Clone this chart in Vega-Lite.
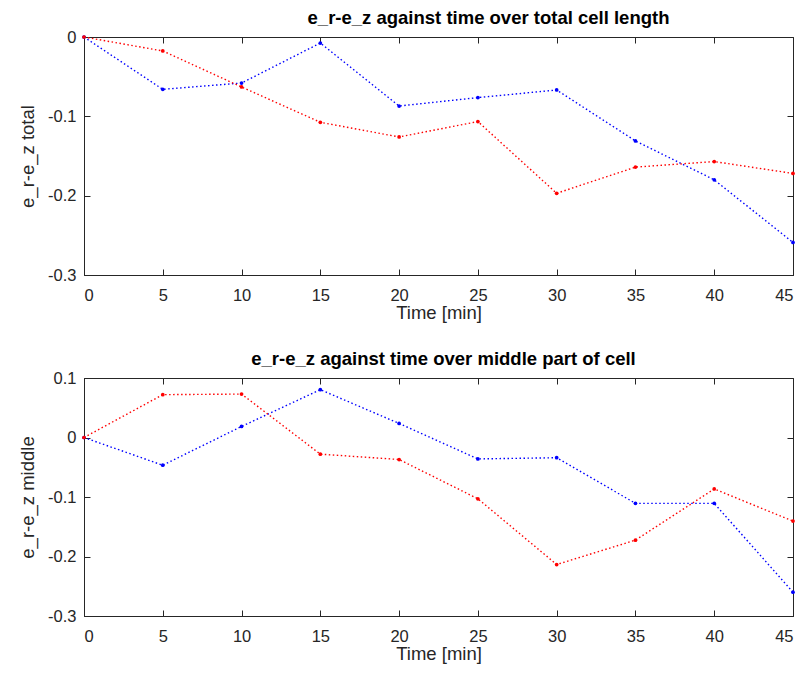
{
  "$schema": "https://vega.github.io/schema/vega-lite/v6.json",
  "background": "white",
  "padding": {"left": 18, "top": 8, "right": 10, "bottom": 4},
  "spacing": 26,
  "config": {
    "font": "Liberation Sans",
    "view": {"stroke": "#262626", "strokeWidth": 1},
    "axis": {
      "grid": false,
      "domainColor": "#262626",
      "tickColor": "#262626",
      "labelColor": "#262626",
      "titleColor": "#262626",
      "labelFont": "Liberation Sans",
      "titleFont": "Liberation Sans",
      "labelFontSize": 16.5,
      "titleFontSize": 18.5,
      "titleFontWeight": "normal",
      "tickSize": -6
    },
    "axisX": {"labelPadding": 18},
    "axisY": {"labelPadding": 14},
    "title": {"font": "Liberation Sans", "fontSize": 18.5, "fontWeight": "bold", "color": "#000000", "anchor": "middle", "offset": 2}
  },
  "datasets": {
    "total": [
      {"time": 0, "series": "blue", "value": 0},
      {"time": 5, "series": "blue", "value": -0.066},
      {"time": 10, "series": "blue", "value": -0.058},
      {"time": 15, "series": "blue", "value": -0.0076},
      {"time": 20, "series": "blue", "value": -0.087},
      {"time": 25, "series": "blue", "value": -0.0764},
      {"time": 30, "series": "blue", "value": -0.0668},
      {"time": 35, "series": "blue", "value": -0.131},
      {"time": 40, "series": "blue", "value": -0.18},
      {"time": 45, "series": "blue", "value": -0.259},
      {"time": 0, "series": "red", "value": 0},
      {"time": 5, "series": "red", "value": -0.0176},
      {"time": 10, "series": "red", "value": -0.063},
      {"time": 15, "series": "red", "value": -0.1075},
      {"time": 20, "series": "red", "value": -0.126},
      {"time": 25, "series": "red", "value": -0.1066},
      {"time": 30, "series": "red", "value": -0.197},
      {"time": 35, "series": "red", "value": -0.164},
      {"time": 40, "series": "red", "value": -0.157},
      {"time": 45, "series": "red", "value": -0.172}
    ],
    "middle": [
      {"time": 0, "series": "blue", "value": 0},
      {"time": 5, "series": "blue", "value": -0.0466},
      {"time": 10, "series": "blue", "value": 0.0186},
      {"time": 15, "series": "blue", "value": 0.0804},
      {"time": 20, "series": "blue", "value": 0.0236},
      {"time": 25, "series": "blue", "value": -0.036},
      {"time": 30, "series": "blue", "value": -0.034},
      {"time": 35, "series": "blue", "value": -0.1107},
      {"time": 40, "series": "blue", "value": -0.1107},
      {"time": 45, "series": "blue", "value": -0.26},
      {"time": 0, "series": "red", "value": 0},
      {"time": 5, "series": "red", "value": 0.072},
      {"time": 10, "series": "red", "value": 0.073},
      {"time": 15, "series": "red", "value": -0.028},
      {"time": 20, "series": "red", "value": -0.037},
      {"time": 25, "series": "red", "value": -0.103},
      {"time": 30, "series": "red", "value": -0.2135},
      {"time": 35, "series": "red", "value": -0.1725},
      {"time": 40, "series": "red", "value": -0.0865},
      {"time": 45, "series": "red", "value": -0.1405}
    ]
  },
  "vconcat": [
    {
      "width": 709,
      "height": 238,
      "title": {"text": "e_r-e_z  against time over total cell length", "dx": 50},
      "data": {"name": "total"},
      "resolve": {"axis": {"x": "independent", "y": "independent"}},
      "layer": [
        {
          "mark": {"type": "line", "strokeDash": [1.5, 2.5], "strokeWidth": 1.4},
          "encoding": {
            "x": {"field": "time", "type": "quantitative", "scale": {"domain": [0, 45], "nice": false}, "axis": {"values": [0,5,10,15,20,25,30,35,40,45], "title": "Time [min]", "titlePadding": 0}},
            "y": {"field": "value", "type": "quantitative", "scale": {"domain": [-0.3, 0], "nice": false, "zero": false}, "axis": {"values": [0,-0.1,-0.2,-0.3], "format": ".1~f", "labelExpr": "replace(datum.label, '\u2212', '-')", "title": "e_r-e_z total", "titlePadding": 10}},
            "color": {"field": "series", "type": "nominal", "scale": {"domain": ["blue", "red"], "range": ["#0000ff", "#ff0000"]}, "legend": null},
            "detail": {"field": "series"}
          }
        },
        {
          "mark": {"type": "point", "filled": true, "size": 14, "opacity": 1},
          "encoding": {
            "x": {"field": "time", "type": "quantitative", "axis": null},
            "y": {"field": "value", "type": "quantitative", "axis": null},
            "color": {"field": "series", "type": "nominal", "legend": null}
          }
        },
        {
          "mark": {"type": "point", "opacity": 0},
          "encoding": {
            "x": {"field": "time", "type": "quantitative", "axis": {"orient": "top", "values": [0,5,10,15,20,25,30,35,40,45], "labels": false, "title": null, "domain": false}},
            "y": {"field": "value", "type": "quantitative", "axis": {"orient": "right", "values": [0,-0.1,-0.2,-0.3], "labels": false, "title": null, "domain": false}}
          }
        }
      ]
    },
    {
      "width": 709,
      "height": 238,
      "title": {"text": "e_r-e_z against time  over middle part of cell", "dx": 5},
      "data": {"name": "middle"},
      "resolve": {"axis": {"x": "independent", "y": "independent"}},
      "layer": [
        {
          "mark": {"type": "line", "strokeDash": [1.5, 2.5], "strokeWidth": 1.4},
          "encoding": {
            "x": {"field": "time", "type": "quantitative", "scale": {"domain": [0, 45], "nice": false}, "axis": {"values": [0,5,10,15,20,25,30,35,40,45], "title": "Time [min]", "titlePadding": 0}},
            "y": {"field": "value", "type": "quantitative", "scale": {"domain": [-0.3, 0.1], "nice": false, "zero": false}, "axis": {"values": [0.1,0,-0.1,-0.2,-0.3], "format": ".1~f", "labelExpr": "replace(datum.label, '\u2212', '-')", "title": "e_r-e_z middle", "titlePadding": 10}},
            "color": {"field": "series", "type": "nominal", "scale": {"domain": ["blue", "red"], "range": ["#0000ff", "#ff0000"]}, "legend": null},
            "detail": {"field": "series"}
          }
        },
        {
          "mark": {"type": "point", "filled": true, "size": 14, "opacity": 1},
          "encoding": {
            "x": {"field": "time", "type": "quantitative", "axis": null},
            "y": {"field": "value", "type": "quantitative", "axis": null},
            "color": {"field": "series", "type": "nominal", "legend": null}
          }
        },
        {
          "mark": {"type": "point", "opacity": 0},
          "encoding": {
            "x": {"field": "time", "type": "quantitative", "axis": {"orient": "top", "values": [0,5,10,15,20,25,30,35,40,45], "labels": false, "title": null, "domain": false}},
            "y": {"field": "value", "type": "quantitative", "axis": {"orient": "right", "values": [0.1,0,-0.1,-0.2,-0.3], "labels": false, "title": null, "domain": false}}
          }
        }
      ]
    }
  ]
}
